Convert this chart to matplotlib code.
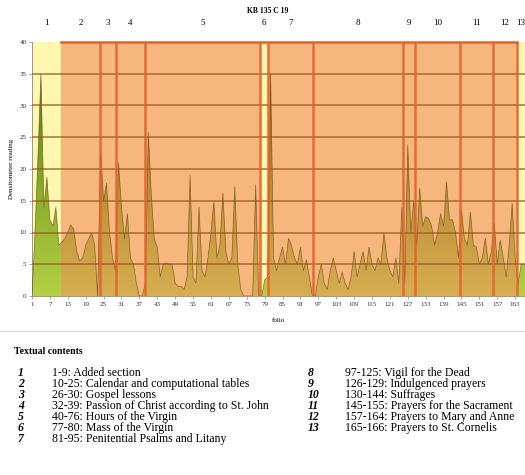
import numpy as np
import matplotlib
matplotlib.use("Agg")
import matplotlib.pyplot as plt
from matplotlib.path import Path
from matplotlib.patches import PathPatch
from matplotlib.colors import LinearSegmentedColormap
from matplotlib.lines import Line2D

plt.rcParams['font.family'] = ['Liberation Serif', 'DejaVu Serif']

# densitometer readings, one per folio (1-166)
reading = [
    0, 10, 22, 35, 14, 18.7, 12, 11, 14, 8,
    8.5, 9, 10, 11.2, 10.5, 7, 5.5, 6, 8, 9,
    9.9, 8, 0, 23, 15, 17.8, 10, 6, 4, 21,
    14, 9, 13, 6, 5, 2, 0, 0, 2, 25.8,
    16, 9, 7.7, 3, 5, 5.2, 5, 5, 2, 1.5,
    1.5, 1, 3, 19, 3, 2, 14, 4, 3, 6,
    10, 14.8, 6, 8, 16.2, 7, 5, 6, 17.2, 5,
    1, 0, 0, 0, 0, 17.5, 0, 0, 2.5, 3,
    35, 6, 4, 6, 7.7, 5, 9.1, 8, 6, 5,
    7.7, 4, 5.7, 3, 0, 0, 3, 5, 2, 1,
    4, 6, 4, 2, 3.8, 2, 1, 3, 7, 3,
    5, 7, 4, 7.7, 5, 4, 6, 5, 9.9, 6,
    4, 3, 6, 2, 14, 2, 23.8, 10, 15, 8,
    17, 11, 12.5, 12.2, 11, 8, 10, 13, 11, 18,
    12, 12, 10, 6, 13.5, 9, 8, 13.2, 8, 7.7,
    5, 6, 9.1, 5, 7, 11.5, 5, 8.8, 6, 3,
    8, 14.6, 6, 2, 5, 5,
]
folio = np.arange(1, len(reading) + 1)
reading = np.array(reading, dtype=float)

# section edges (folio axis) and which sections are "added" (yellow)
edges = [1, 10.7, 23.75, 29.1, 38.8, 77.6, 80.0, 95.3, 125.4, 129.4, 144.5, 155.5, 163.5, 166.3]
added = [True, False, False, False, False, True, False, False, False, False, False, False, True]
section_no = [str(i) for i in range(1, 14)]

contents = [
    "1-9: Added section",
    "10-25: Calendar and computational tables",
    "26-30: Gospel lessons",
    "32-39: Passion of Christ according to St. John",
    "40-76: Hours of the Virgin",
    "77-80: Mass of the Virgin",
    "81-95: Penitential Psalms and Litany",
    "97-125: Vigil for the Dead",
    "126-129: Indulgenced prayers",
    "130-144: Suffrages",
    "145-155: Prayers for the Sacrament",
    "157-164: Prayers to Mary and Anne",
    "165-166: Prayers to St. Cornelis",
]

W, H = 525, 475
fig = plt.figure(figsize=(W / 100, H / 100), dpi=100)
ax = fig.add_axes([32 / W, 1 - 296 / H, 493 / W, 254 / H])
ax.set_xlim(edges[0], edges[-1])
ax.set_ylim(0, 40)

yellow = '#fff6b0'
orange = '#f5b77c'
redline = '#e4622c'

for i in range(len(added)):
    ax.axvspan(edges[i], edges[i + 1], color=yellow if added[i] else orange, lw=0, zorder=0)

# top border over the orange part
ax.plot([edges[1], edges[-2]], [40, 40], color=redline, lw=1.8, zorder=1, clip_on=False)


def area_path(spans):
    paths = []
    for a, b in spans:
        xs = np.concatenate([[a], folio[(folio > a) & (folio < b)], [b]])
        ys = np.interp(xs, folio, reading)
        verts = list(zip(xs, ys)) + [(b, 0), (a, 0), (a, ys[0])]
        codes = [Path.MOVETO] + [Path.LINETO] * (len(verts) - 2) + [Path.CLOSEPOLY]
        paths.append(Path(verts, codes))
    return Path.make_compound_path(*paths)


grad = np.linspace(0, 1, 256).reshape(-1, 1)
groups = [
    (True, ['#b4d044', '#7fa622', '#3f6a06']),
    (False, ['#d6ad52', '#b98a30', '#6e4410']),
]
for flag, cols in groups:
    spans = [(edges[i], edges[i + 1]) for i in range(len(added)) if added[i] == flag]
    patch = PathPatch(area_path(spans), facecolor='none', edgecolor='none', transform=ax.transData)
    ax.add_patch(patch)
    cmap = LinearSegmentedColormap.from_list('g', cols)
    im = ax.imshow(grad, cmap=cmap, origin='lower', aspect='auto',
                   extent=[edges[0], edges[-1], 0, 40], zorder=2)
    im.set_clip_path(patch)

ax.plot(folio, reading, color='#5c4410', lw=0.5, alpha=0.7, zorder=3)

# horizontal grid lines
for yv in range(5, 40, 5):
    ax.axhline(yv, color='#9a5a26', lw=1.1, alpha=0.85, zorder=4)

# section boundaries
for e in edges[2:-1]:
    ax.axvline(e, color=redline, lw=1.8, alpha=0.9, zorder=5)

ax.set_xticks(folio[::6])
ax.set_xticklabels([str(f) for f in folio[::6]])
ax.set_yticks(range(0, 41, 5))
ax.tick_params(labelsize=5, length=2, width=0.5, color='#888888', labelcolor='#333333', pad=2)
for s in ['top', 'right']:
    ax.spines[s].set_visible(False)
for s in ['left', 'bottom']:
    ax.spines[s].set_color('#888888')
    ax.spines[s].set_linewidth(0.6)
ax.set_ylabel('Densitometer reading', fontsize=5, labelpad=4)
ax.set_xlabel('folio', fontsize=5, labelpad=8)

# section numbers above the plot
for i, lab in enumerate(section_no):
    xm = (edges[i] + edges[i + 1]) / 2
    fig.text((32 + (xm - 1) * 493 / 165.3) / W, 1 - 23 / H, lab, ha='center', va='center',
             fontsize=6.5)
fig.text(268 / W, 1 - 11 / H, 'KB 135 C 19', ha='center', va='center', fontsize=5.5, fontweight='bold')

# separator and textual contents
fig.add_artist(Line2D([0, 1], [1 - 331 / H] * 2, color='#dddddd', lw=1))
fig.text(14 / W, 1 - 352 / H, 'Textual contents', fontsize=7, fontweight='bold', va='center')
for i, txt in enumerate(contents):
    if i < 7:
        xn, xt, row = 18, 52, i
    else:
        xn, xt, row = 308, 345, i - 7
    yy = 1 - (373 + row * 11) / H
    fig.text(xn / W, yy, str(i + 1), fontsize=8.5, fontweight='bold', style='italic', va='center')
    fig.text(xt / W, yy, txt, fontsize=8.5, va='center')

fig.savefig('out.png', dpi=100)
